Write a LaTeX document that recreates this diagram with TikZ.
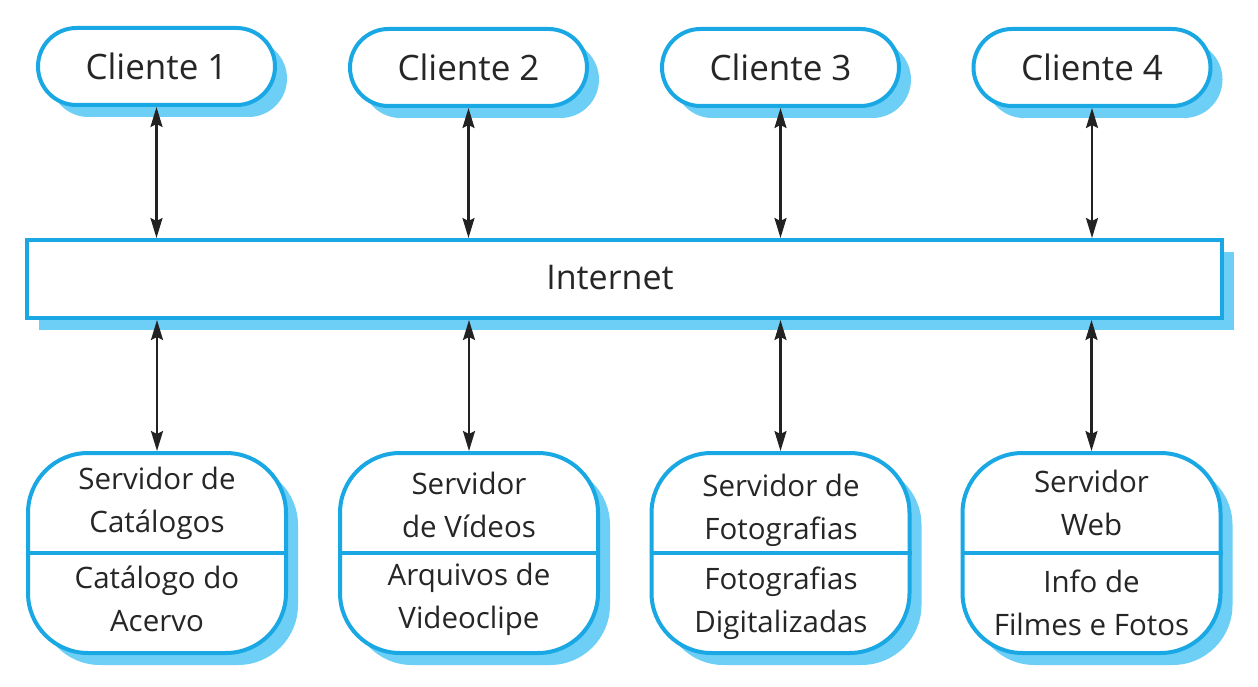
\documentclass[tikz,border=0pt]{standalone}
\usepackage{fontspec}
\setmainfont{Open Sans}
\usetikzlibrary{shapes.misc,shadows,arrows.meta}
\definecolor{bord}{HTML}{1AA8E4}
\definecolor{shad}{HTML}{6DCFF6}
\definecolor{arrc}{HTML}{222222}
\definecolor{txt}{HTML}{262626}
\begin{document}
\begin{tikzpicture}[x=1pt,y=-1pt,
 shadowed/.style={drop shadow={shadow xshift=12pt,shadow yshift=-12pt,fill=shad,opacity=1}},
 client/.style={rounded rectangle, draw=bord, line width=4pt, fill=white, minimum width=237pt, minimum height=77pt, inner sep=0pt, text=txt, font=\fontsize{35}{40}\selectfont, shadowed},
 netbox/.style={rectangle, draw=bord, line width=4pt, fill=white, minimum width=1195pt, minimum height=78pt, inner sep=0pt, shadowed},
 label/.style={inner sep=0pt, text=txt, font=\fontsize{34}{40}\selectfont},
 server/.style={rectangle, rounded corners=60pt, draw=bord, line width=4pt, fill=white, minimum width=258pt, minimum height=200pt, shadowed},
 stext/.style={align=center, inner sep=0pt, text=txt, font=\fontsize{29.5}{43}\selectfont},
 divider/.style={draw=bord, line width=4pt},
 arr/.style={{Stealth[length=20pt,width=12pt,inset=3pt]}-{Stealth[length=20pt,width=12pt,inset=3pt]}, draw=arrc, line width=2.2pt}
]
\useasboundingbox (0,0) rectangle (1258,687);
\fill[white] (0,0) rectangle (1258,687);

% clients
\node[client] (c1) at (156.5,66.5) {Cliente 1};
\node[client] (c2) at (468.5,67.5) {Cliente 2};
\node[client] (c3) at (780.5,67.5) {Cliente 3};
\node[client] (c4) at (1092,67.5) {Cliente 4};

% internet
\node[netbox] (net) at (624.5,279) {};
\node[label] (netlabel) at (610,278) {Internet};

% servers
\node[server] (s1) at (157,553) {};
\node[server] (s2) at (469,553) {};
\node[server] (s3) at (780.5,553) {};
\node[server] (s4) at (1091.5,553) {};
\draw[divider] (s1.west) -- (s1.east);
\draw[divider] (s2.west) -- (s2.east);
\draw[divider] (s3.west) -- (s3.east);
\draw[divider] (s4.west) -- (s4.east);

\node[stext] (s1a) at (157,503) {Servidor de\\Catálogos};
\node[stext] (s1b) at (157,599) {Catálogo do\\Acervo};
\node[stext] (s2a) at (469,505) {Servidor\\de Vídeos};
\node[stext] (s2b) at (469,599) {Arquivos de\\Videoclipe};
\node[stext] (s3a) at (781,510) {Servidor de\\Fotografias};
\node[stext] (s3b) at (781,603) {Fotografias\\Digitalizadas};
\node[stext] (s4a) at (1091.5,503) {Servidor\\Web};
\node[stext] (s4b) at (1091.5,603) {Info de\\Filmes e Fotos};

% arrows
\draw[arr] (c1.south) -- (c1.south |- net.north);
\draw[arr] (c2.south) -- (c2.south |- net.north);
\draw[arr] (c3.south) -- (c3.south |- net.north);
\draw[arr] (c4.south) -- (c4.south |- net.north);
\draw[arr] (s1.north |- net.south) -- (s1.north);
\draw[arr] (s2.north |- net.south) -- (s2.north);
\draw[arr] (s3.north |- net.south) -- (s3.north);
\draw[arr] (s4.north |- net.south) -- (s4.north);
\end{tikzpicture}
\end{document}
